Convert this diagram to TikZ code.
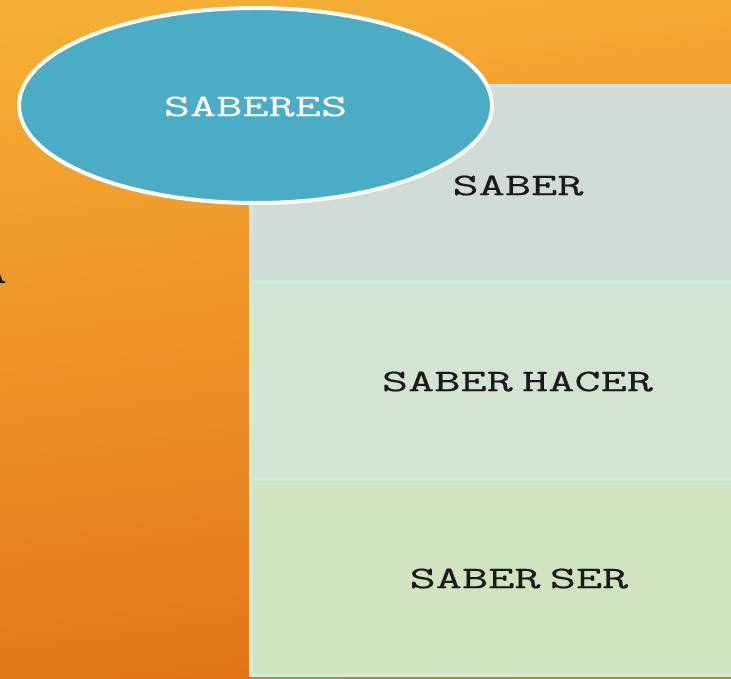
\documentclass[tikz,border=0pt]{standalone}
\usepackage{fontspec}
\usetikzlibrary{shapes.geometric}
\newfontfamily\diafont[FakeStretch=1.62, WordSpace=0.35, FakeBold=0.4]{Latin Modern Mono}
\definecolor{bgtop}{HTML}{F6AE34}
\definecolor{bgbot}{HTML}{E27219}
\definecolor{ellfill}{HTML}{4AACC5}
\definecolor{boxa}{HTML}{D2DCD6}
\definecolor{boxb}{HTML}{D2E4D2}
\definecolor{boxc}{HTML}{CFE4BF}
\definecolor{linea}{HTML}{CFE3E6}
\definecolor{lineb}{HTML}{CBEDD9}
\definecolor{txt}{HTML}{1A1A1A}
\tikzset{
  layerbox/.style={rectangle, minimum width=483pt, inner sep=0pt, line width=3.5pt},
  boxtext/.style={font=\diafont\fontsize{31.4}{32}\selectfont, text=txt, inner sep=0pt},
}
\begin{document}
\begin{tikzpicture}[x=1pt,y=-1pt]
\useasboundingbox (0,0) rectangle (731,679);
\clip (0,0) rectangle (731,679);
\shade[top color=bgtop, bottom color=bgbot, shading angle=8] (-20,-20) rectangle (751,699);
\node[boxtext, anchor=base east] (cut) at (7,283) {A};
\node[layerbox, fill=boxa, draw=linea, minimum height=196pt] (saber) at (492.3,184) {};
\node[layerbox, fill=boxb, draw=lineb, minimum height=197pt] (hacer) at (492.3,380.5) {};
\node[layerbox, fill=boxc, draw=lineb, minimum height=196pt] (ser) at (492.3,577) {};
\node[boxtext] (tsaber) at (518,185.5) {SABER};
\node[boxtext] (thacer) at (517.5,381.5) {SABER HACER};
\node[boxtext] (tser) at (519,578.5) {SABER SER};
\node[ellipse, fill=ellfill, draw=white, line width=4pt, minimum width=473pt, minimum height=195pt, inner sep=0pt] (saberes) at (255.5,105.5) {};
\node[boxtext, text=white] (tsaberes) at (255.5,106.5) {SABERES};
\end{tikzpicture}
\end{document}
